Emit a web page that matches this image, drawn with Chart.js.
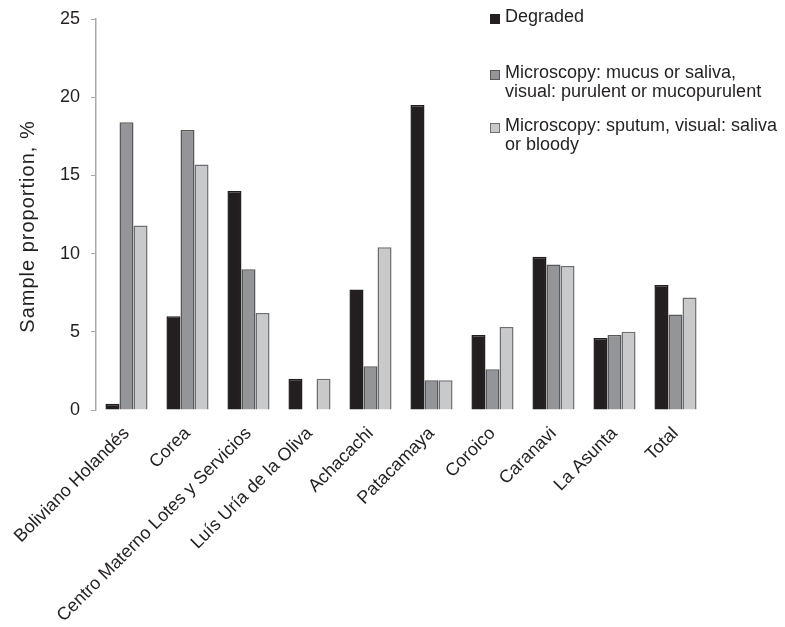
<!DOCTYPE html>
<html><head><meta charset="utf-8">
<script src="https://cdn.jsdelivr.net/npm/chart.js@4/dist/chart.umd.min.js"></script>
<style>
html,body{margin:0;padding:0;background:#fff;}
#wrap{position:relative;width:785px;height:627px;}
#legend{position:absolute;left:490px;top:0;font-family:"Liberation Sans",Arial,sans-serif;font-size:18px;color:#231f20;line-height:19px;}
.item{position:absolute;padding-left:15px;white-space:pre;}
.box{position:absolute;left:0;top:7px;width:10px;height:10px;box-sizing:border-box;}
</style></head><body>
<div id="wrap"><canvas id="c" width="785" height="627"></canvas>
<div id="legend"></div></div>
<script>
const categories = ["Boliviano Holandés","Corea","Centro Materno Lotes y Servicios","Luís Uría de la Oliva","Achacachi","Patacamaya","Coroico","Caranavi","La Asunta","Total"];
const seriesNames = ["Degraded","Microscopy: mucus or saliva,\nvisual: purulent or mucopurulent","Microscopy: sputum, visual: saliva\nor bloody"];
const degraded = [0.4, 6.0, 14.0, 2.0, 7.7, 19.5, 4.8, 9.8, 4.6, 8.0];
const mucus = [18.4, 17.9, 9.0, 0, 2.8, 1.9, 2.6, 9.3, 4.8, 6.1];
const sputum = [11.8, 15.7, 6.2, 2.0, 10.4, 1.9, 5.3, 9.2, 5.0, 7.2];
const yTicks = [0, 5, 10, 15, 20, 25];

const fills = ["#231f20", "#939598", "#c8c9cb"];
const borders = ["#231f20", "#58595b", "#6d6e71"];
const FONT = "'Liberation Sans', Arial, sans-serif";

const leg = document.getElementById('legend');
const tops = [7, 63, 116];
seriesNames.forEach((n, i) => {
  const d = document.createElement('div');
  d.className = 'item';
  d.style.top = tops[i] + 'px';
  d.innerHTML = '<span class="box" style="background:' + fills[i] + ';border:1px solid ' + borders[i] + '"></span>';
  d.appendChild(document.createTextNode(n));
  leg.appendChild(d);
});

const titleTweak = {
  id: 'titleTweak',
  afterLayout(chart) {
    const s = chart.scales.y;
    if (s._tweaked) return;
    s._tweaked = true;
    const orig = s.drawTitle.bind(s);
    s.drawTitle = function () {
      const ctx = chart.ctx;
      ctx.save();
      ctx.letterSpacing = '1px';
      ctx.translate(0, 12);
      orig();
      ctx.restore();
    };
  }
};

new Chart(document.getElementById('c'), {
  type: 'bar',
  data: {
    labels: categories,
    datasets: [degraded, mucus, sputum].map((v, i) => ({
      label: seriesNames[i], data: v,
      backgroundColor: fills[i], borderColor: borders[i], borderWidth: 1.5,
      barPercentage: 1.0, categoryPercentage: 0.69
    }))
  },
  plugins: [titleTweak],
  options: {
    responsive: false, animation: false,
    layout: { padding: { left: 0, right: 79, top: 19, bottom: 0 } },
    plugins: { legend: { display: false }, tooltip: { enabled: false } },
    scales: {
      x: {
        grid: { display: false }, border: { display: false },
        ticks: { color: '#231f20', font: { family: FONT, size: 18 }, minRotation: 45, maxRotation: 45, padding: 5 },
        afterFit: s => { s.height = 217; s.paddingLeft = 0; s.paddingRight = 0; }
      },
      y: {
        min: 0, max: 25,
        afterBuildTicks: s => { s.ticks = yTicks.map(v => ({ value: v })); },
        grid: { drawOnChartArea: false, drawTicks: true, tickLength: 5, color: '#a7a9ac' },
        border: { color: '#a7a9ac', width: 1.5 },
        ticks: { color: '#231f20', font: { family: FONT, size: 18 }, padding: 11 },
        title: { display: true, text: 'Sample proportion, %', color: '#231f20', font: { family: FONT, size: 20 }, padding: { top: 16, bottom: 0 } },
        afterFit: s => { s.width = 96; s.paddingTop = 0; s.paddingBottom = 0; }
      }
    }
  }
});
</script></body></html>
